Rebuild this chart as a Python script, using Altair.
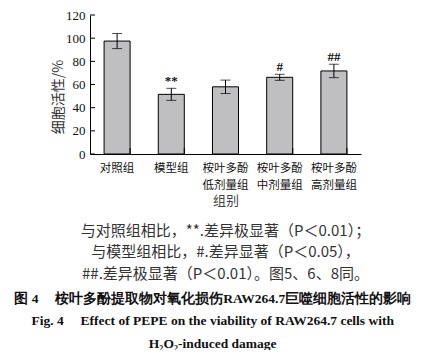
import altair as alt
import pandas as pd

groups = ["对照组", "模型组", "桉叶多酚低剂量组", "桉叶多酚中剂量组", "桉叶多酚高剂量组"]
viability = [97.5, 51.5, 58.0, 66.2, 71.7]
errors = [6.5, 5.2, 5.8, 2.6, 5.8]
marks = ["", "**", "", "#", "##"]
y_ticks = [0, 20, 40, 60, 80, 100, 120]

caption_lines = [
    "与对照组相比，**.差异极显著（P＜0.01）；",
    "与模型组相比，#.差异显著（P＜0.05），",
    "##.差异极显著（P＜0.01）。图5、6、8同。",
]
figure_lines = [
    "图 4\u2003 桉叶多酚提取物对氧化损伤RAW264.7巨噬细胞活性的影响",
    "Fig. 4\u2003 Effect of PEPE on the viability of RAW264.7 cells with",
    "H₂O₂-induced damage",
]

df = pd.DataFrame({
    "group": groups,
    "v": viability,
    "lo": [v - e for v, e in zip(viability, errors)],
    "hi": [v + e for v, e in zip(viability, errors)],
    "mark": marks,
})
tick_df = pd.DataFrame({"t": y_ticks})

W, H = 271, 139
cjk = "Noto Sans CJK SC"
serif = "Liberation Serif"

x_axis = alt.Axis(
    ticks=False, domainColor="black", domainWidth=1,
    labelFont=cjk, labelFontSize=11.5, labelColor="#111", labelAngle=0,
    labelPadding=8, labelLineHeight=17, labelOverlap=False,
    labelExpr="length(datum.label) > 4 ? [substring(datum.label,0,4), substring(datum.label,4)] : datum.label",
    titleFont=cjk, titleFontSize=13, titleFontWeight="normal", titleColor="#444",
    titlePadding=4,
)
x_scale = alt.Scale(paddingInner=0.52, paddingOuter=0.26)
y_axis = alt.Axis(
    values=y_ticks, ticks=False, grid=False, domainColor="black", labelOverlap=False,
    labelFont=serif, labelFontSize=13, labelColor="#111", labelPadding=5,
    titleFont=cjk, titleFontSize=14, titleFontWeight="normal", titleColor="#333",
    titlePadding=0, titleAlign="center", titleY=H / 2 + 12,
)
y_scale = alt.Scale(domain=[0, 120], nice=False)


def xe(**kw):
    return alt.X("group:N", sort=groups, title="组别", scale=x_scale, axis=x_axis, **kw)


def ye(field):
    return alt.Y(field, scale=y_scale, title="细胞活性/%", axis=y_axis)


base = alt.Chart(df)
bars = base.mark_bar(color="#bfbfc2", stroke="black", strokeWidth=1).encode(x=xe(), y=ye("v:Q"))
whisk = base.mark_rule(color="black", strokeWidth=1).encode(x=xe(), y=ye("lo:Q"), y2="hi:Q")
cap_lo = base.mark_tick(color="black", size=10, thickness=1, orient="horizontal").encode(
    x=xe(), y=ye("lo:Q"))
cap_hi = base.mark_tick(color="black", size=10, thickness=1, orient="horizontal").encode(
    x=xe(), y=ye("hi:Q"))
ann = base.mark_text(font=serif, fontSize=13, fontWeight="bold", color="#111", baseline="bottom", dy=0).encode(
    x=xe(), y=ye("hi:Q"), text="mark:N")
ytk = alt.Chart(tick_df).mark_rule(color="black", strokeWidth=1).encode(
    y=ye("t:Q"), x=alt.value(0), x2=alt.value(5))
xtk = base.mark_rule(color="black", strokeWidth=1).encode(
    x=xe(bandPosition=1), y=alt.value(H - 6), y2=alt.value(H))

main = alt.layer(bars, whisk, cap_lo, cap_hi, ann, ytk, xtk).properties(
    width=W, height=H,
    title=alt.TitleParams(
        text=caption_lines, orient="bottom", anchor="middle", font=cjk, fontSize=15,
        fontWeight="normal", color="#333", lineHeight=21.5, offset=16,
    ),
)

chart = alt.vconcat(main).properties(
    title=alt.TitleParams(
        text=figure_lines, orient="bottom", anchor="middle", font=serif, fontSize=13.5,
        fontWeight="bold", color="#111", lineHeight=22.5, offset=10,
    ),
    padding={"left": 6, "top": 1, "right": 2, "bottom": 0},
).configure_view(stroke=None).configure_concat(spacing=0)

chart.save("out.html", embed_options={"renderer": "svg", "actions": False})
